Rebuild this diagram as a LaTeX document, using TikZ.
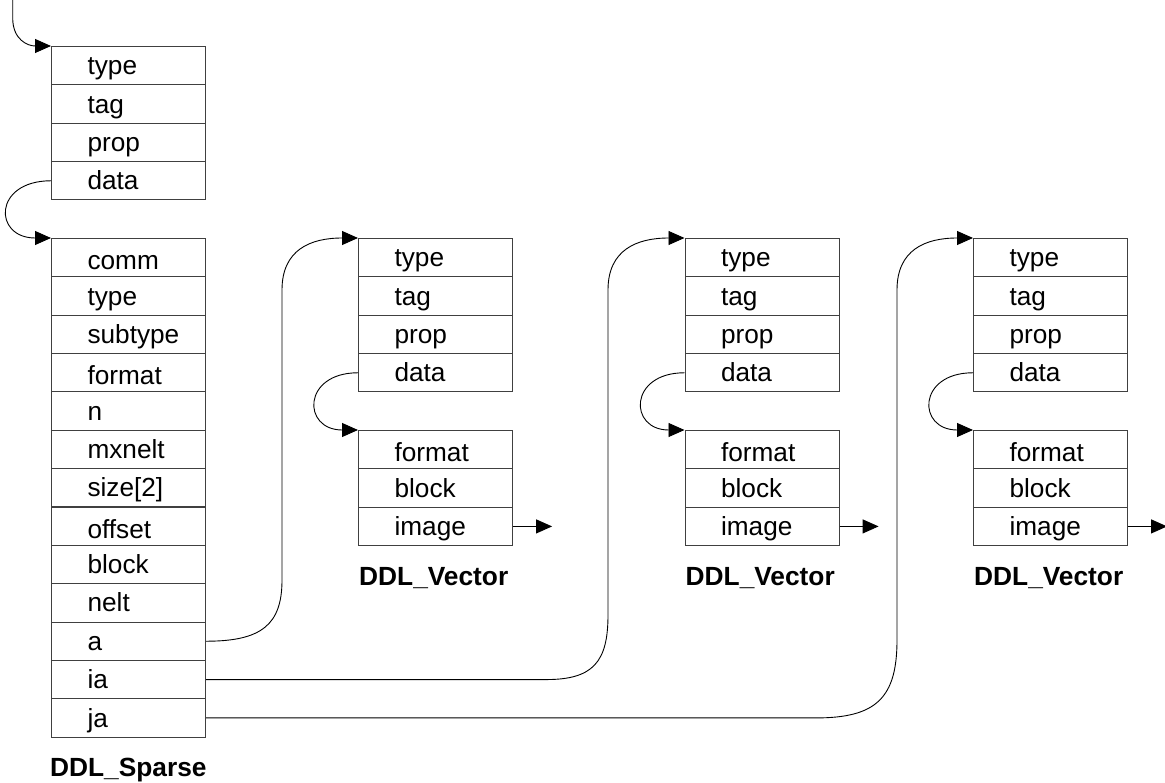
\documentclass[tikz,border=0pt]{standalone}
\usepackage{fontspec}
\setmainfont{Liberation Sans}
\usetikzlibrary{arrows.meta}

% a field whose text sits a little lower in its row
\newcommand\lowered[1]{\raisebox{-3pt}{#1}}
% \record{name}{left x}{top y}{field labels}: a column of stacked fields
\newcommand\record[4]{%
  \foreach \lab [count=\k from 0] in {#4}{%
    \node[field] (#1-\k) at (#2,{#3+\k*38.35}) {\makebox[154pt][l]{\hspace*{36pt}\lab}};
  }}

\begin{document}
\begin{tikzpicture}[x=1pt,y=-1pt,
  field/.style={draw=black!75, line width=1.1pt, anchor=north west, inner sep=0pt,
    minimum width=154pt, minimum height=38.35pt, text height=20.6pt, text depth=2.4pt,
    font=\fontsize{26.2}{30}\selectfont},
  link/.style={draw=black, line width=0.9pt},
  ptr/.style={link, -{Triangle[length=16pt,width=14pt]}},
  caption/.style={anchor=base west, inner sep=0pt, font=\fontsize{26.3}{30}\selectfont\bfseries}]
\useasboundingbox (0,0) rectangle (1165,783);

% header and sparse matrix descriptor
\record{A}{51}{46}{type,tag,prop,data}
\record{B}{51}{238}{\lowered{comm},type,subtype,\lowered{format},n,mxnelt,size[2],\lowered{offset},block,nelt,a,ia,ja}
\node[caption] (capS) at (50,776) {DDL\_Sparse};

% the three vectors with their headers
\foreach \g/\vx in {1/358,2/684.5,3/973}{
  \record{V\g}{\vx}{238}{type,tag,prop,data}
  \record{F\g}{\vx}{430}{\lowered{format},block,image}
  \node[caption] (cap\g) at (\vx+1,585) {DDL\_Vector};
}

% incoming pointer
\coordinate (entry) at (12.7,0);
\draw[ptr] (entry) -- (12.7,18) .. controls (12.7,40) and (28,46) .. (A-0.north west);

% data pointers into the descriptors
\draw[ptr] (A-3.west) .. controls +(-58,0) and +(-58,0) .. (B-0.north west);
\foreach \g in {1,2,3}{
  \draw[ptr] (V\g-3.west) .. controls +(-56,0) and +(-56,0) .. (F\g-0.north west);
  \draw[ptr] (F\g-2.east) -- ++(39,0);
}

% a, ia, ja point to the three vectors
\draw[ptr] (B-10.east) .. controls +(55,0) and +(0,45) .. (282,580) -- (282,290)
  .. controls +(0,-40) and +(-48,0) .. (V1-0.north west);
\draw[ptr] (B-11.east) -- ++(340,0) .. controls +(47,0) and +(0,47) .. (608,615) -- (608,290)
  .. controls +(0,-40) and +(-48,0) .. (V2-0.north west);
\draw[ptr] (B-12.east) -- ++(610,0) .. controls +(60,0) and +(0,58) .. (897,640) -- (897,290)
  .. controls +(0,-40) and +(-48,0) .. (V3-0.north west);
\end{tikzpicture}
\end{document}
